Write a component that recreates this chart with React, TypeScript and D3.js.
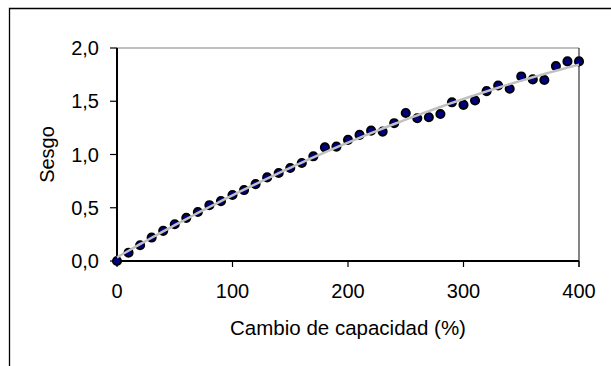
import React from "react";
import * as d3 from "d3";

const capacityChange: number[] = [0,10,20,30,40,50,60,70,80,90,100,110,120,130,140,150,160,170,180,190,200,210,220,230,240,250,260,270,280,290,300,310,320,330,340,350,360,370,380,390,400];
const bias: number[] = [0.0,0.078,0.148,0.22,0.283,0.345,0.405,0.46,0.524,0.562,0.62,0.666,0.722,0.785,0.826,0.873,0.92,0.983,1.067,1.074,1.137,1.184,1.224,1.215,1.294,1.39,1.34,1.35,1.38,1.49,1.466,1.507,1.595,1.648,1.617,1.733,1.705,1.70,1.83,1.874,1.874];
const xTicks: number[] = [0, 100, 200, 300, 400];
const yTicks: number[] = [0, 0.5, 1.0, 1.5, 2.0];
const xTitle = "Cambio de capacidad (%)";
const yTitle = "Sesgo";

// least-squares quadratic trendline (Excel-style polynomial order 2)
function quadFit(xs: number[], ys: number[]) {
  const n = xs.length;
  let s0 = n, s1 = 0, s2 = 0, s3 = 0, s4 = 0, t0 = 0, t1 = 0, t2 = 0;
  for (let i = 0; i < n; i++) {
    const x = xs[i], y = ys[i];
    s1 += x; s2 += x * x; s3 += x * x * x; s4 += x * x * x * x;
    t0 += y; t1 += x * y; t2 += x * x * y;
  }
  const M = [[s0, s1, s2, t0], [s1, s2, s3, t1], [s2, s3, s4, t2]];
  for (let c = 0; c < 3; c++) {
    for (let r = c + 1; r < 3; r++) {
      const f = M[r][c] / M[c][c];
      for (let k = c; k < 4; k++) M[r][k] -= f * M[c][k];
    }
  }
  const sol = [0, 0, 0];
  for (let r = 2; r >= 0; r--) {
    let s = M[r][3];
    for (let k = r + 1; k < 3; k++) s -= M[r][k] * sol[k];
    sol[r] = s / M[r][r];
  }
  return (x: number) => sol[0] + sol[1] * x + sol[2] * x * x;
}

export default function App() {
  const W = 611, H = 366;
  const left = 117, right = 579, top = 48, bottom = 261;
  const x = d3.scaleLinear().domain([0, 400]).range([left, right]);
  const y = d3.scaleLinear().domain([0, 2]).range([bottom, top]);
  const fit = quadFit(capacityChange, bias);
  const trend = d3.range(0, 401, 5).map((v) => [v, fit(v)] as [number, number]);
  const line = d3.line<[number, number]>().x((d) => x(d[0])).y((d) => y(d[1]));
  const fmt = (v: number) => v.toFixed(1).replace(".", ",");
  const font = "'Liberation Sans', Arial, sans-serif";
  return (
    <svg width={W} height={H} style={{ position: "absolute", left: 0, top: 0, background: "#fff" }} fontFamily={font}>
      <rect x={0} y={0} width={W} height={H} fill="#fff" />
      {/* outer frame */}
      <path d={`M9.5,${H} V8.5 H${W}`} fill="none" stroke="#000" strokeWidth={1.3} />
      {/* plot frame top/right */}
      <line x1={left} x2={right} y1={top} y2={top} stroke="#808080" strokeWidth={1.2} />
      <line x1={right} x2={right} y1={top} y2={bottom + 6} stroke="#333" strokeWidth={1.2} />
      {/* y ticks */}
      {yTicks.map((t) => (
        <g key={"y" + t}>
          <line x1={left - 7} x2={left} y1={y(t)} y2={y(t)} stroke="#000" strokeWidth={1.2} />
          <text x={left - 18} y={y(t)} dy="0.35em" textAnchor="end" fontSize={20} fill="#000">{fmt(t)}</text>
        </g>
      ))}
      {/* x ticks */}
      {xTicks.map((t) => (
        <g key={"x" + t}>
          <line x1={x(t)} x2={x(t)} y1={bottom} y2={bottom + 6} stroke="#000" strokeWidth={1.2} />
          <text x={x(t)} y={298} textAnchor="middle" fontSize={20} fill="#000">{t}</text>
        </g>
      ))}
      {/* axes */}
      <line x1={left} x2={left} y1={top} y2={bottom} stroke="#000" strokeWidth={2} />
      <line x1={left} x2={right} y1={bottom} y2={bottom} stroke="#000" strokeWidth={2} />
      {/* markers */}
      {capacityChange.map((c, i) => (
        <circle key={i} cx={x(c)} cy={y(bias[i])} r={4.1} fill="#000080" stroke="#000" strokeWidth={1.9} />
      ))}
      {/* trendline */}
      <path d={line(trend) || ""} fill="none" stroke="#c0c0c0" strokeWidth={2.5} />
      {/* titles */}
      <text x={(left + right) / 2} y={335} textAnchor="middle" fontSize={20.5} fill="#000">{xTitle}</text>
      <text transform={`translate(54,${(top + bottom) / 2}) rotate(-90)`} textAnchor="middle" fontSize={20} fill="#000">{yTitle}</text>
    </svg>
  );
}
